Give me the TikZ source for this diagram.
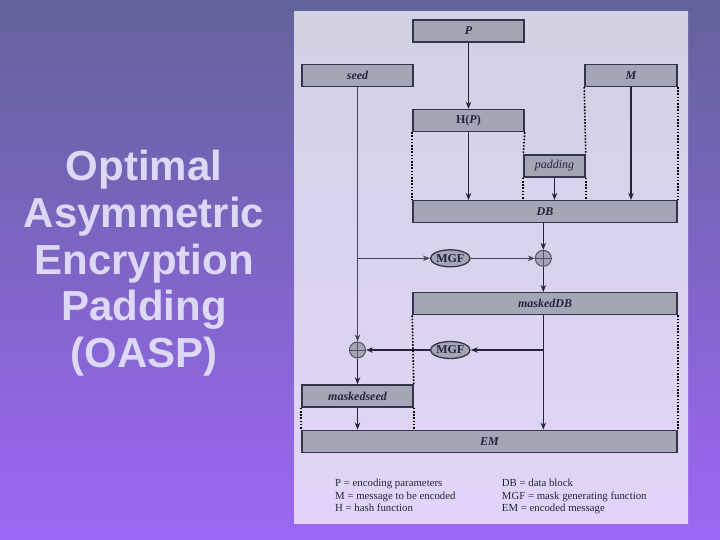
\documentclass[tikz,border=0pt]{standalone}
\usepackage{fontspec}
\setmainfont{Liberation Serif}
\newfontfamily\titlefont{Liberation Sans}
\usepackage{tikz}
\usetikzlibrary{shapes.geometric,arrows.meta}

\definecolor{bgtop}{HTML}{62639A}
\definecolor{bgmid}{HTML}{6865A6}
\definecolor{bgbot}{HTML}{9C67F3}
\definecolor{paneltop}{HTML}{D2D2E2}
\definecolor{panelmid}{HTML}{D6D4E8}
\definecolor{panelbot}{HTML}{E2D4F9}
\definecolor{boxfill}{HTML}{A5A6B5}
\definecolor{boxedge}{HTML}{34344A}
\definecolor{ink}{HTML}{24243A}
\definecolor{titleink}{HTML}{DCD8F6}

\tikzset{
  blk/.style={draw=boxedge, fill=boxfill, line width=1.5pt, inner sep=0pt,
    minimum height=22pt, text=ink, font=\fontsize{12}{13}\selectfont\bfseries\itshape},
  mgf/.style={ellipse, draw=boxedge, fill=boxfill, line width=1.3pt, inner sep=0pt,
    minimum width=37pt, minimum height=17pt, text=ink, font=\fontsize{12}{13}\selectfont\bfseries},
  xor/.style={circle, draw=boxedge!85, fill=boxfill, line width=1pt, inner sep=0pt,
    minimum size=16pt, path picture={
      \draw[boxedge!85, line width=0.8pt]
        (path picture bounding box.north) -- (path picture bounding box.south)
        (path picture bounding box.west) -- (path picture bounding box.east);}},
  flow/.style={draw=ink, line width=1.3pt, -{Stealth[length=7pt,width=5.5pt]}},
  thinflow/.style={draw=ink!85, line width=0.9pt, -{Stealth[length=7pt,width=5.5pt]}},
  guide/.style={draw=black, line width=1.6pt, dash pattern=on 1.6pt off 1.6pt},
  keytext/.style={anchor=base west, inner sep=0pt, text=ink, font=\fontsize{10.8}{12}\selectfont},
  headline/.style={anchor=base, inner sep=0pt, text=titleink, font=\titlefont\bfseries\fontsize{42}{46}\selectfont}
}

\begin{document}
\begin{tikzpicture}[x=1pt, y=-1pt]
\useasboundingbox (0,0) rectangle (720,540);
\shade[top color=bgtop, middle color=bgmid, bottom color=bgbot] (0,0) rectangle (720,540);

% title on the left
\foreach \w [count=\i] in {Optimal, Asymmetric, Encryption, Padding, {(OASP)}}
  \node[headline] (title\i) at (144, 134.5+46.5*\i) {\w};

% panel
\shade[top color=paneltop, middle color=panelmid, bottom color=panelbot] (294,12) rectangle (688,523);

% blocks
\node[blk, minimum width=111pt] (P) at (468.5,31) {P};
\node[blk, minimum width=111pt] (seed) at (357.5,75.3) {seed};
\node[blk, minimum width=92pt] (M) at (631,75.3) {M};
\node[blk, minimum width=111pt] (HP) at (468.5,120.5) {\textup{H(}P\textup{)}};
\node[blk, minimum width=61pt, font=\fontsize{12}{13}\selectfont\itshape] (pad) at (554.5,166) {padding};
\node[blk, minimum width=264pt] (DB) at (545,211.7) {DB};
\node[mgf] (g1) at (450.3,258.3) {MGF};
\node[xor] (x1) at (543.3,258.3) {};
\node[blk, minimum width=264pt] (mDB) at (545,303.7) {maskedDB};
\node[mgf] (g2) at (450.3,350) {MGF};
\node[xor] (x2) at (seed |- g2) {};
\node[blk, minimum width=111pt] (mseed) at (357.5,396) {maskedseed};
\node[blk, minimum width=375pt] (EM) at (489.5,441.3) {EM};

% dotted guides
\draw[guide] (HP.south west) -- (HP.south west |- DB.north);
\draw[guide] (HP.south east) -- (pad.north west);
\draw[guide] (pad.south west) -- (pad.south west |- DB.north);
\draw[guide] (M.south west) -- (pad.north east);
\draw[guide] (pad.south east) -- (pad.south east |- DB.north);
\draw[guide] (M.south east) -- (M.south east |- DB.north);
\draw[guide] (mDB.south west) -- (mseed.north east);
\draw[guide] (mseed.south east) -- (mseed.south east |- EM.north);
\draw[guide] (mDB.south east) -- (mDB.south east |- EM.north);
\draw[guide] (mseed.south west) -- (mseed.south west |- EM.north);

% data flow
\draw[flow] (P) -- (HP);
\draw[flow] (HP) -- (HP |- DB.north);
\draw[flow] (pad) -- (pad |- DB.north);
\draw[flow] (M) -- (M |- DB.north);
\draw[flow] (DB.south -| x1) -- (x1);
\draw[thinflow] (seed) -- (x2);
\draw[thinflow] (seed |- g1) -- (g1);
\draw[thinflow] (g1) -- (x1);
\draw[flow] (x1) -- (x1 |- mDB.north);
\draw[flow] (mDB.south -| x1) -- (x1 |- EM.north);
\draw[flow] (x1 |- g2) -- (g2);
\draw[flow] (g2) -- (x2);
\draw[flow] (x2) -- (x2 |- mseed.north);
\draw[flow] (mseed) -- (mseed |- EM.north);

% key
\node[keytext] (k1) at (335,486.7) {P = encoding parameters};
\node[keytext] (k2) at (335,499.2) {M = message to be encoded};
\node[keytext] (k3) at (335,511.2) {H = hash function};
\node[keytext] (k4) at (501.7,486.7) {DB = data block};
\node[keytext] (k5) at (501.7,499.2) {MGF = mask generating function};
\node[keytext] (k6) at (501.7,511.2) {EM = encoded message};
\end{tikzpicture}
\end{document}
